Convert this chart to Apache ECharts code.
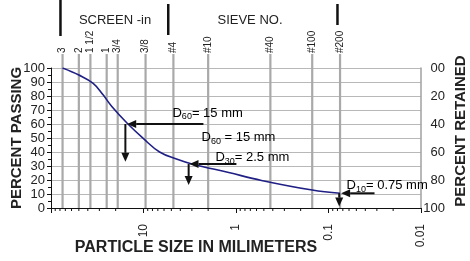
<!DOCTYPE html>
<html>
<head>
<meta charset="utf-8">
<script src="https://cdn.jsdelivr.net/npm/echarts@6/dist/echarts.min.js"></script>
<style>
  html, body { margin: 0; padding: 0; background: #fff; }
  #chart { width: 470px; height: 261px; }
</style>
</head>
<body>
<div id="chart"></div>
<script>
// gradation curve: particle size (mm) vs percent passing
const sizes = [75, 50, 35, 27.5, 22, 15, 10, 6.7, 4.4, 3.0, 1.2, 0.53, 0.15, 0.075];
const passing = [100, 95, 89, 81, 72.5, 60.5, 49.5, 40, 35, 31.5, 25.3, 19.7, 12.8, 10.5];

// screens (in) and sieve numbers
const sieveLabels = ['3', '2', '1 1/2', '1', '3/4', '3/8', '#4', '#10', '#40', '#100', '#200'];
const sieveSizes = [75, 50, 37.5, 25, 19, 9.5, 4.75, 2.0, 0.425, 0.15, 0.075];

// black separators in the header (screen | sieve)
const headerBarSizes = [79, 5.4, 0.08];

// axis tick labels
const xTickValues = [10, 1, 0.1, 0.01];
const xTickLabels = ['10', '1', '0.1', '0.01'];
const retainedLabels = ['00', '20', '40', '60', '80', '100'];

// D-value annotations
const annoSub = ['60', '60', '30', '10'];
const annoText = ['= 15 mm', ' = 15 mm', '= 2.5 mm', '= 0.75 mm'];
const annoSize = [4.86, 2.36, 1.67, 0.0638];
const annoPassing = [67.9, 50.7, 36, 16.4];

// arrows: from (size, passing) to (size, passing)
const arrowFrom = [[2.25, 60], [15.7, 60], [0.99, 31.4], [3.25, 31.4], [0.0318, 10.5], [0.0766, 10.5]];
const arrowTo = [[15, 60], [15.7, 33], [3.18, 31.4], [3.25, 16.4], [0.073, 10.5], [0.0766, 1]];

const FONT = '"Liberation Sans", Arial, sans-serif';
const NARROW = '"Liberation Sans Narrow", "Arial Narrow", "Liberation Sans", sans-serif';
const barSpans = [[0, 36], [4, 35], [4, 25]];  // px from top of image

// minor log ticks on the size axis
const minorTicks = [];
[10, 1, 0.1, 0.01].forEach(d => {
  for (let m = 2; m <= 9; m++) minorTicks.push([d * m, 0]);
});

const chart = echarts.init(document.getElementById('chart'));

const renderSieve = (params, api) => {
  const size = api.value(0);
  const p0 = api.coord([size, 0]);
  const p1 = api.coord([size, 100]);
  return {
    type: 'group',
    children: [
      {
        type: 'line',
        shape: { x1: p0[0], y1: p0[1], x2: p1[0], y2: p1[1] - 14 },
        style: { stroke: '#a9a9a9', lineWidth: 2.2 }
      },
      {
        type: 'text',
        x: p1[0], y: p1[1] - 15,
        rotation: Math.PI / 2,
        style: {
          text: sieveLabels[params.dataIndex],
          font: '10px ' + NARROW,
          fill: '#222',
          align: 'left',
          verticalAlign: 'middle'
        }
      }
    ]
  };
};

const renderBar = (params, api) => {
  const p = api.coord([api.value(0), 100]);
  const span = barSpans[params.dataIndex];
  return {
    type: 'line',
    shape: { x1: p[0], y1: span[0], x2: p[0], y2: span[1] },
    style: { stroke: '#111', lineWidth: 2.5 }
  };
};

const renderMinorTick = (params, api) => {
  const p = api.coord([api.value(0), 0]);
  return {
    type: 'line',
    shape: { x1: p[0], y1: p[1], x2: p[0], y2: p[1] + 3 },
    style: { stroke: '#111', lineWidth: 1 }
  };
};

const renderArrow = (params, api) => {
  const a = api.coord([api.value(0), api.value(1)]);
  const b = api.coord([api.value(2), api.value(3)]);
  const dx = b[0] - a[0], dy = b[1] - a[1];
  const len = Math.hypot(dx, dy);
  const ux = dx / len, uy = dy / len;
  const hl = 9, hw = 4;
  const base = [b[0] - ux * hl, b[1] - uy * hl];
  return {
    type: 'group',
    children: [
      {
        type: 'line',
        shape: { x1: a[0], y1: a[1], x2: base[0], y2: base[1] },
        style: { stroke: '#111', lineWidth: 2 }
      },
      {
        type: 'polygon',
        shape: { points: [b, [base[0] - uy * hw, base[1] + ux * hw], [base[0] + uy * hw, base[1] - ux * hw]] },
        style: { fill: '#111' }
      }
    ]
  };
};

const renderAnno = (params, api) => {
  const p = api.coord([api.value(0), api.value(1)]);
  const i = params.dataIndex;
  return {
    type: 'text',
    x: p[0], y: p[1],
    style: {
      text: '{d|D}{s|' + annoSub[i] + '}{d|' + annoText[i] + '}',
      align: 'left',
      verticalAlign: 'middle',
      rich: {
        d: { fontSize: 13, fontFamily: FONT, color: '#222' },
        s: { fontSize: 9, fontFamily: FONT, color: '#222', padding: [8, 0, 0, 0] }
      }
    }
  };
};

const option = {
  animation: false,
  backgroundColor: '#fff',
  textStyle: { fontFamily: FONT },
  grid: { left: 51, right: 49, top: 68, bottom: 53 },
  xAxis: {
    type: 'log',
    logBase: 10,
    min: 0.01,
    max: 100,
    inverse: true,
    axisLine: { lineStyle: { color: '#111', width: 1 } },
    axisTick: { show: true, length: 5, lineStyle: { color: '#111' } },
    splitLine: { show: false },
    axisLabel: {
      rotate: 90,
      margin: 16,
      fontSize: 12,
      color: '#222',
      formatter: v => {
        const i = xTickValues.findIndex(t => Math.abs(Math.log10(v / t)) < 1e-6);
        return i < 0 ? '' : xTickLabels[i];
      }
    }
  },
  yAxis: [
    {
      type: 'value',
      min: 0,
      max: 100,
      interval: 10,
      axisLine: { show: true, lineStyle: { color: '#111', width: 1 } },
      axisTick: { show: true, length: 4, lineStyle: { color: '#111' } },
      minorTick: { show: true, splitNumber: 2, length: 3, lineStyle: { color: '#111' } },
      splitLine: { show: true, lineStyle: { color: '#b8b8b8', width: 1 } },
      axisLabel: { margin: 6, fontSize: 13, color: '#222' }
    },
    {
      type: 'value',
      position: 'right',
      min: 0,
      max: 100,
      interval: 20,
      inverse: true,
      axisLine: { show: true, lineStyle: { color: '#a0a0a0', width: 1.5 } },
      axisTick: { show: false },
      splitLine: { show: false },
      axisLabel: {
        margin: 24,
        align: 'right',
        fontSize: 13,
        color: '#222',
        formatter: v => retainedLabels[Math.round(v / 20)]
      }
    }
  ],
  graphic: [
    {
      type: 'text', x: 17, y: 138, rotation: Math.PI / 2,
      style: { text: 'PERCENT PASSING', font: 'bold 15px ' + FONT, fill: '#222', align: 'center', verticalAlign: 'middle' }
    },
    {
      type: 'text', x: 461, y: 131, rotation: Math.PI / 2,
      style: { text: 'PERCENT RETAINED', font: 'bold 15px ' + FONT, fill: '#222', align: 'center', verticalAlign: 'middle' }
    },
    {
      type: 'text', x: 196, y: 248,
      style: { text: 'PARTICLE SIZE IN MILIMETERS', font: 'bold 16px ' + FONT, fill: '#222', align: 'center', verticalAlign: 'middle' }
    },
    {
      type: 'text', x: 115, y: 20,
      style: { text: 'SCREEN -in', font: '13px ' + FONT, fill: '#222', align: 'center', verticalAlign: 'middle' }
    },
    {
      type: 'text', x: 250, y: 20,
      style: { text: 'SIEVE NO.', font: '13px ' + FONT, fill: '#222', align: 'center', verticalAlign: 'middle' }
    }
  ],
  series: [
    {
      type: 'custom',
      clip: false,
      z: 1,
      renderItem: renderSieve,
      data: sieveSizes.map(s => [s, 50])
    },
    {
      type: 'custom',
      clip: false,
      z: 1,
      renderItem: renderBar,
      data: headerBarSizes.map(s => [s, 100])
    },
    {
      type: 'custom',
      clip: false,
      z: 1,
      renderItem: renderMinorTick,
      data: minorTicks
    },
    {
      type: 'line',
      z: 3,
      smooth: 0.4,
      symbol: 'none',
      lineStyle: { color: '#1f1f85', width: 1.6 },
      data: sizes.map((s, i) => [s, passing[i]])
    },
    {
      type: 'custom',
      clip: false,
      z: 4,
      renderItem: renderArrow,
      encode: { x: [0, 2], y: [1, 3] },
      data: arrowFrom.map((f, i) => [f[0], f[1], arrowTo[i][0], arrowTo[i][1]])
    },
    {
      type: 'custom',
      clip: false,
      z: 4,
      renderItem: renderAnno,
      data: annoSize.map((s, i) => [s, annoPassing[i]])
    }
  ]
};

chart.setOption(option);
</script>
</body>
</html>
